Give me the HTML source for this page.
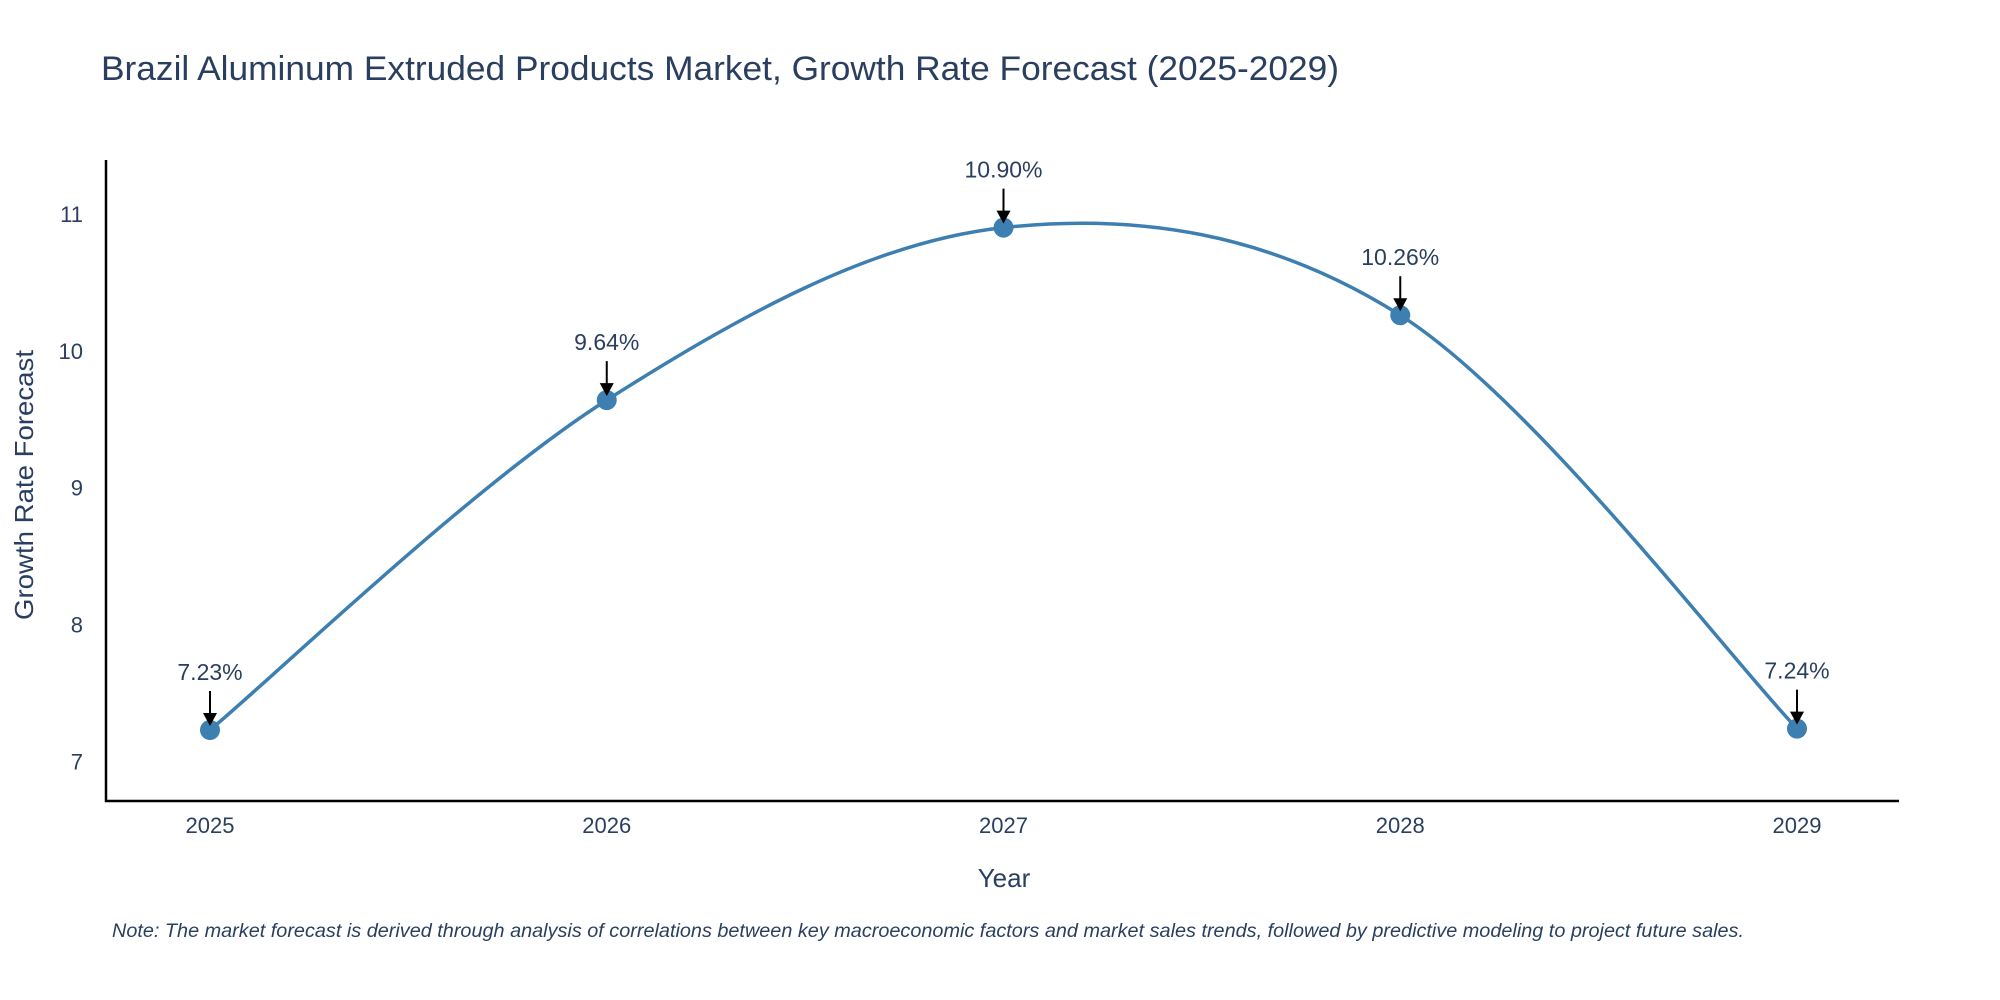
<!DOCTYPE html>
<html><head><meta charset="utf-8"><style>
html,body{margin:0;padding:0;background:#fff;}
svg{display:block;font-family:"Liberation Sans",sans-serif;}
</style></head><body>
<svg id="chart" width="2000" height="1000" viewBox="0 0 2000 1000">
<text x="101" y="80" font-size="34" fill="#2a3f5f" textLength="1238" lengthAdjust="spacingAndGlyphs">Brazil Aluminum Extruded Products Market, Growth Rate Forecast (2025-2029)</text>
<g id="yticks"></g><g id="xticks"></g>
<path id="curve" fill="none" stroke="#3d7fb0" stroke-width="3.5"></path>
<g id="points"></g><g id="annos"></g>
<line x1="106" y1="160" x2="106" y2="802" stroke="#000" stroke-width="2.5"/>
<line x1="105" y1="801" x2="1899" y2="801" stroke="#000" stroke-width="2.5"/>
<text x="1004" y="887" font-size="26" fill="#2a3f5f" text-anchor="middle">Year</text>
<text x="0" y="0" font-size="26" fill="#2a3f5f" text-anchor="middle" transform="translate(33,485) rotate(-90)" textLength="270" lengthAdjust="spacingAndGlyphs">Growth Rate Forecast</text>
<text x="112" y="937" font-size="19" font-style="italic" fill="#2a3f5f" textLength="1632" lengthAdjust="spacingAndGlyphs">Note: The market forecast is derived through analysis of correlations between key macroeconomic factors and market sales trends, followed by predictive modeling to project future sales.</text>
</svg>
<script>
const years=[2025,2026,2027,2028,2029];
const values=[7.23,9.64,10.90,10.26,7.24];
const labels=["7.23%","9.64%","10.90%","10.26%","7.24%"];
const yTicks=[7,8,9,10,11];
const NS="http://www.w3.org/2000/svg";
const xs=y=>210+(y-2025)*(1797-210)/4;
const ys=v=>761.5-(v-7)*136.9;
function mk(t,a,p){const e=document.createElementNS(NS,t);for(const k in a)e.setAttribute(k,a[k]);p.appendChild(e);return e;}
const yt=document.getElementById('yticks');
yTicks.forEach(v=>{const t=mk('text',{x:83,y:ys(v)+8,'font-size':22,fill:'#2a3f5f','text-anchor':'end'},yt);t.textContent=v;

});
const xt=document.getElementById('xticks');
years.forEach(y=>{const t=mk('text',{x:xs(y),y:833,'font-size':22,fill:'#2a3f5f','text-anchor':'middle'},xt);t.textContent=y;

});
const P=years.map((y,i)=>[xs(y),ys(values[i])]);
let d=`M${P[0][0]},${P[0][1]}`;const k=0.5;
for(let i=0;i<P.length-1;i++){const p0=P[i-1]||P[i],p1=P[i],p2=P[i+1],p3=P[i+2]||P[i+1];
const c1=[p1[0]+(p2[0]-p0[0])*k/3,p1[1]+(p2[1]-p0[1])*k/3];
const c2=[p2[0]-(p3[0]-p1[0])*k/3,p2[1]-(p3[1]-p1[1])*k/3];
d+=` C${c1[0]},${c1[1]} ${c2[0]},${c2[1]} ${p2[0]},${p2[1]}`;}
document.getElementById('curve').setAttribute('d',d);
const pts=document.getElementById('points'),an=document.getElementById('annos');
P.forEach((p,i)=>{const c=mk('circle',{cx:p[0],cy:p[1],r:10,fill:'#3d7fb0'},pts);


const l=mk('line',{x1:p[0],y1:p[1]-39,x2:p[0],y2:p[1]-14,stroke:'#000','stroke-width':2},an);


const h=mk('polygon',{points:`${p[0]-7},${p[1]-17} ${p[0]+7},${p[1]-17} ${p[0]},${p[1]-4}`,fill:'#000'},an);


const t=mk('text',{x:p[0],y:p[1]-50,'font-size':23,fill:'#2a3f5f','text-anchor':'middle'},an);t.textContent=labels[i];

});
</script>
</body></html>
